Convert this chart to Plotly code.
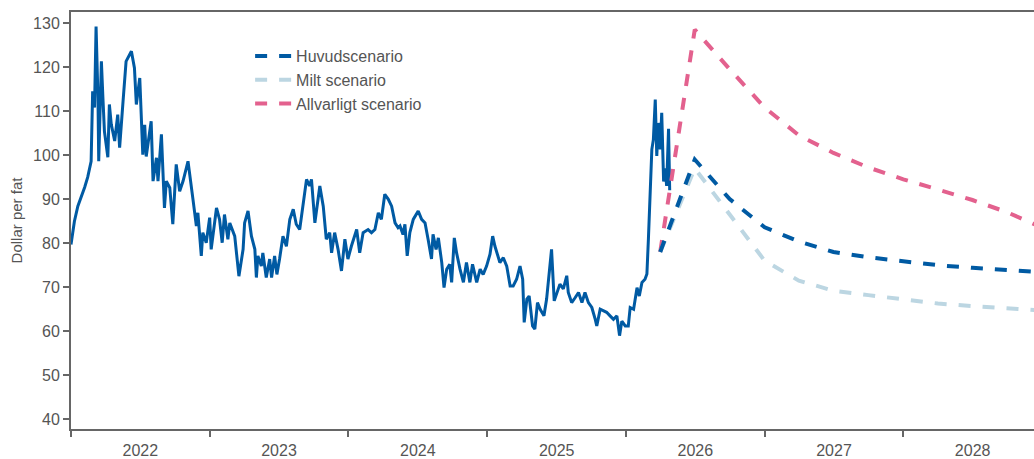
import pandas as pd
import plotly.graph_objects as go

# Historical oil price (dollar per barrel), days after 2022-01-01 and value
hist_days = [0, 9, 18, 27, 36, 44, 53, 57, 62, 66, 71, 73, 80, 84, 88, 97, 101, 106, 115, 123,
             128, 137, 145, 159, 167, 172, 181, 189, 194, 198, 211, 216, 225, 229, 238, 246, 251,
             260, 268, 277, 286, 295, 308, 321, 330, 334, 343, 347, 356, 365, 369, 383, 391, 398,
             404, 413, 418, 431, 440, 442, 453, 457, 466, 475, 484, 488, 492, 501, 505, 514, 523,
             528, 536, 542, 549, 558, 567, 576, 585, 593, 602, 611, 620, 628, 633, 642, 650, 655,
             664, 672, 681, 686, 694, 703, 712, 721, 729, 738, 752, 760, 769, 782, 791, 800, 809,
             817, 826, 835, 844, 853, 861, 866, 874, 879, 885, 892, 901, 914, 923, 932, 940, 949,
             953, 961, 967, 976, 982, 989, 997, 1002, 1009, 1015, 1024, 1033, 1041, 1050, 1057,
             1068, 1077, 1085, 1094, 1103, 1110, 1116, 1129, 1138, 1147, 1156, 1164, 1173, 1182,
             1189, 1193, 1200, 1206, 1215, 1221, 1228, 1235, 1245, 1252, 1261, 1265, 1272, 1279,
             1287, 1296, 1305, 1309, 1318, 1327, 1336, 1345, 1353, 1362, 1371, 1380, 1384, 1393,
             1401, 1410, 1419, 1428, 1437, 1444, 1450, 1459, 1467, 1472, 1481, 1490, 1496, 1503,
             1511, 1516, 1520, 1525, 1529, 1533, 1538, 1542, 1546, 1551, 1555, 1560, 1564, 1568,
             1573, 1576]
hist_values = [79.7, 85.0, 88.4, 90.4, 92.7, 95.0, 98.6, 114.5, 110.8, 129.2, 113.0, 98.6, 121.3,
               113.0, 105.4, 99.5, 111.5, 107.0, 103.2, 109.2, 101.7, 112.2, 121.3, 123.6, 119.8,
               111.5, 117.5, 100.1, 106.9, 99.7, 107.7, 94.1, 99.4, 94.1, 104.7, 88.0, 94.1, 92.6,
               84.3, 97.9, 91.8, 94.1, 98.6, 90.0, 83.9, 86.9, 77.1, 82.4, 80.1, 85.8, 78.6, 88.0,
               85.4, 80.1, 86.5, 80.9, 84.6, 81.6, 74.8, 72.5, 78.6, 84.6, 87.3, 81.6, 78.6, 72.2,
               77.1, 74.8, 77.8, 72.2, 76.4, 72.2, 77.1, 72.9, 76.4, 81.6, 79.3, 85.4, 87.7, 84.3,
               83.1, 89.2, 94.5, 93.0, 94.5, 84.6, 90.0, 93.0, 88.4, 80.9, 82.4, 77.8, 82.4, 78.6,
               73.7, 80.9, 76.4, 79.3, 83.1, 77.8, 82.4, 83.1, 82.4, 83.1, 86.9, 85.4, 91.1, 90.0,
               88.4, 84.6, 83.5, 83.9, 82.0, 84.3, 77.1, 82.4, 85.4, 87.3, 85.4, 84.6, 80.9, 76.4,
               82.0, 78.6, 81.2, 75.6, 69.9, 74.1, 75.2, 71.1, 81.2, 77.8, 74.1, 71.1, 75.6, 71.1,
               75.2, 71.1, 74.1, 72.9, 74.8, 77.5, 81.6, 79.3, 75.6, 76.7, 74.8, 70.3, 70.3, 71.8,
               74.8, 71.8, 62.0, 67.3, 68.0, 61.2, 60.5, 66.5, 65.0, 63.5, 67.3, 76.0, 78.6, 66.9,
               68.8, 70.7, 69.6, 72.6, 68.8, 66.5, 67.6, 68.8, 66.5, 68.8, 66.5, 65.4, 62.7, 61.2,
               65.0, 64.6, 64.3, 63.5, 62.7, 63.5, 59.0, 62.3, 61.2, 61.2, 65.4, 65.0, 69.9, 68.0,
               71.1, 71.8, 73.0, 81.0, 92.3, 101.3, 103.5, 112.6, 99.8, 107.3, 101.3, 109.6, 94.0,
               97.0, 93.0, 106.0, 92.0]

# Scenario paths (quarterly)
scen_dates = ["2026-04-01", "2026-07-01", "2026-10-01", "2027-01-01", "2027-04-01", "2027-07-01",
              "2027-10-01", "2028-01-01", "2028-04-01", "2028-07-01", "2028-10-01", "2029-01-01"]
main_scen = [78.0, 99.0, 90.0, 83.6, 80.4, 78.0, 76.8, 75.8, 75.0, 74.4, 73.9, 73.4]
mild_scen = [78.0, 97.0, 86.5, 76.0, 71.5, 69.2, 68.2, 67.2, 66.3, 65.7, 65.2, 64.7]
severe_scen = [78.0, 128.5, 119.5, 110.8, 104.5, 100.5, 97.2, 94.5, 92.2, 89.8, 87.0, 83.5]

series_names = ["Huvudscenario", "Milt scenario", "Allvarligt scenario"]
y_ticks = [40, 50, 60, 70, 80, 90, 100, 110, 120, 130]

DARK = "#005AA3"
LIGHT = "#BCD6E2"
PINK = "#E3618E"
GREY = "#555555"
FONT = "Liberation Sans, Arial, sans-serif"

hist_dates = pd.Timestamp("2022-01-01") + pd.to_timedelta(hist_days, unit="D")

fig = go.Figure()
fig.add_trace(go.Scatter(x=hist_dates, y=hist_values, mode="lines",
                         line=dict(color=DARK, width=3), showlegend=False,
                         name="Historik"))
for name, vals, col, grp in [(series_names[2], severe_scen, PINK, "c"),
                             (series_names[1], mild_scen, LIGHT, "b"),
                             (series_names[0], main_scen, DARK, "a")]:
    fig.add_trace(go.Scatter(x=pd.to_datetime(scen_dates), y=vals, mode="lines", name=name,
                             legendgroup=grp, legendrank={"a": 1, "b": 2, "c": 3}[grp],
                             line=dict(color=col, width=4, dash="12px,12px")))

fig.update_layout(
    width=1034, height=459,
    margin=dict(l=71, r=0, t=12, b=30),
    paper_bgcolor="white", plot_bgcolor="white",
    font=dict(family=FONT, color=GREY, size=16),
    legend=dict(x=0.186, y=0.935, xanchor="left", yanchor="top",
                bgcolor="rgba(0,0,0,0)", font=dict(size=16, color=GREY),
                tracegroupgap=0, itemwidth=36),
    xaxis=dict(type="date", range=["2022-01-01", "2028-12-10"],
               tick0="2022-01-01", dtick="M12", tickformat="%Y", ticklabelmode="period",
               ticks="outside", ticklen=6, tickwidth=1.5, tickcolor="#666666",
               showline=True, linecolor="#666666", linewidth=2, mirror=True,
               showgrid=False, zeroline=False, tickfont=dict(size=16, color=GREY)),
    yaxis=dict(range=[37.8, 132.5], tickvals=y_ticks,
               ticks="outside", ticklen=6, tickwidth=1.5, tickcolor="#666666",
               showline=True, linecolor="#666666", linewidth=2,
               showgrid=False, zeroline=False, tickfont=dict(size=16, color=GREY),
               title=dict(text="Dollar per fat", font=dict(size=15, color=GREY), standoff=7)),
)

fig.write_html("out.html", config={"displayModeBar": False},
               post_script="document.body.style.margin='0';document.body.style.overflow='hidden';")
